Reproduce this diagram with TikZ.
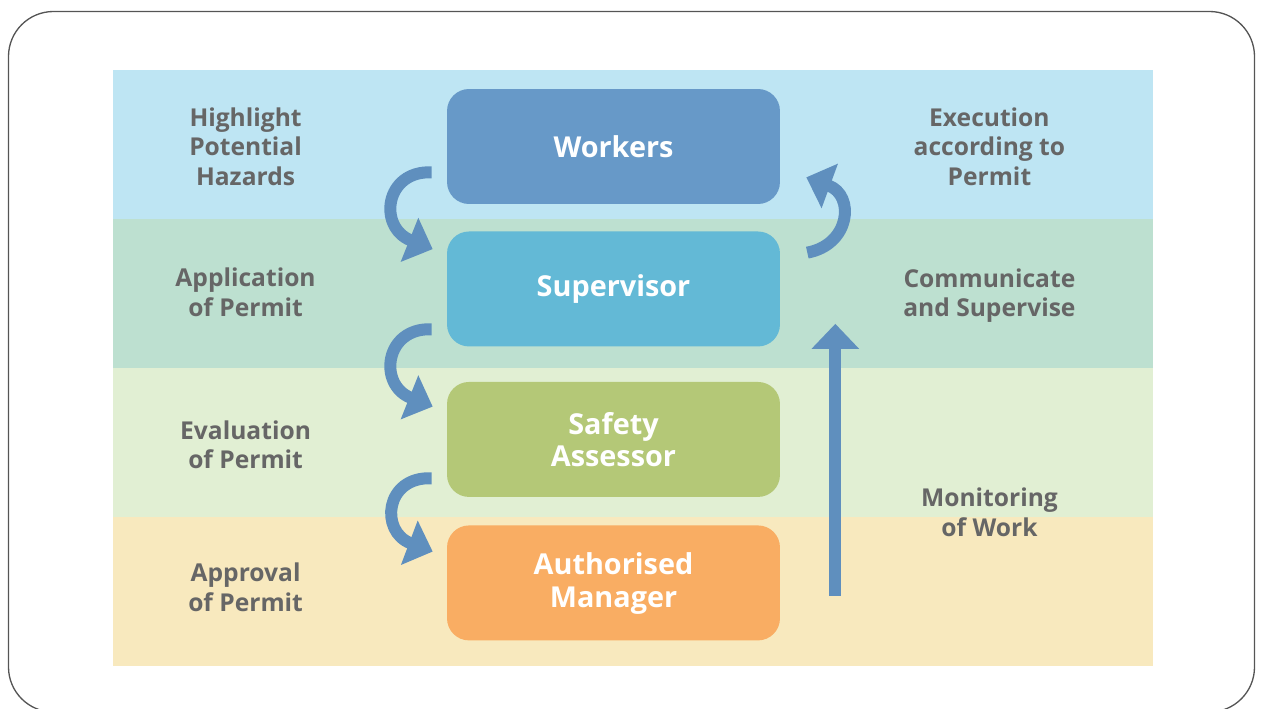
\documentclass[tikz,border=0pt]{standalone}
\usepackage{fontspec}
\setmainfont{Open Sans}
\usetikzlibrary{positioning,arrows.meta,calc}

\definecolor{bandblue}{HTML}{BEE5F3}
\definecolor{bandgreen}{HTML}{BDE0D0}
\definecolor{bandlime}{HTML}{E1EFD3}
\definecolor{bandsand}{HTML}{F8E9BE}
\definecolor{workersblue}{HTML}{6799C8}
\definecolor{supervisorcyan}{HTML}{63B9D6}
\definecolor{assessorgreen}{HTML}{B4C877}
\definecolor{managerorange}{HTML}{F9AD63}
\definecolor{flowblue}{HTML}{5F8FBE}
\definecolor{labelgray}{HTML}{666666}
\definecolor{framegray}{HTML}{555555}

\tikzset{
  role/.style={rectangle, rounded corners=0.44cm, minimum width=6.66cm, minimum height=2.3cm,
    align=center, text=white, font=\bfseries\fontsize{16.4}{18.5}\selectfont},
  stage/.style={align=center, text=labelgray, font=\bfseries\fontsize{14}{16.8}\selectfont},
  flow/.style={draw=flowblue, line width=0.24cm, -{Triangle[length=0.5cm, width=0.92cm]}}
}

\begin{document}
\begin{tikzpicture}[x=0.02cm, y=-0.02cm]
  \useasboundingbox (0,0) rectangle (1261,709);
  \draw[framegray, line width=0.75pt, rounded corners=0.9cm] (8.5,11.5) rectangle (1254.5,712);

  % bands
  \foreach \c [count=\i from 0] in {bandblue,bandgreen,bandlime,bandsand}
    \fill[\c] (113,70+149*\i) rectangle (1153,219+149*\i);

  % roles
  \node[role, fill=workersblue] (workers) at (613.5,146.5) {Workers};
  \node[role, fill=supervisorcyan, below of=workers, node distance=2.85cm] (supervisor) {Supervisor};
  \node[role, fill=assessorgreen, below of=supervisor, node distance=3.01cm] (assessor) {Safety\\Assessor};
  \node[role, fill=managerorange, below of=assessor, node distance=2.87cm, text depth=0.12cm] (manager) {Authorised\\Manager};

  % stages
  \node[stage, left of=workers, node distance=7.36cm] (hazards) {Highlight\\Potential\\Hazards};
  \node[stage, left of=supervisor, node distance=7.36cm, yshift=-0.07cm] (application) {Application\\of Permit};
  \node[stage, left of=assessor, node distance=7.36cm, yshift=-0.11cm] (evaluation) {Evaluation\\of Permit};
  \node[stage, left of=manager, node distance=7.36cm, yshift=-0.09cm] (approval) {Approval\\of Permit};
  \node[stage, right of=workers, node distance=7.52cm] (execution) {Execution\\according to\\Permit};
  \node[stage, right of=supervisor, node distance=7.52cm, yshift=-0.13cm] (communicate) {Communicate\\and Supervise};
  \node[stage] (monitoring) at (989.5,512.5) {Monitoring\\of Work};

  % flow
  \draw[flow] ($(workers.south west)+(-15,-32)$) .. controls +(-47,-2) and +(-55,-22) .. ($(supervisor.north west)+(-14,18)$);
  \draw[flow] ($(supervisor.south west)+(-15,-17.5)$) .. controls +(-47,-2) and +(-55,-22) .. ($(assessor.north west)+(-14,25)$);
  \draw[flow] ($(assessor.south west)+(-15,-19)$) .. controls +(-47,-2) and +(-53,-20) .. ($(manager.north west)+(-14,26.5)$);
  \draw[flow] ($(supervisor.north east)+(27,21.5)$) .. controls +(43,-8) and +(49,18) .. ($(workers.south east)+(26,-27)$);
  \draw[flow] ($(manager.east)+(55,13)$) -- ($(supervisor.south east)+(55,-23)$);
\end{tikzpicture}
\end{document}
